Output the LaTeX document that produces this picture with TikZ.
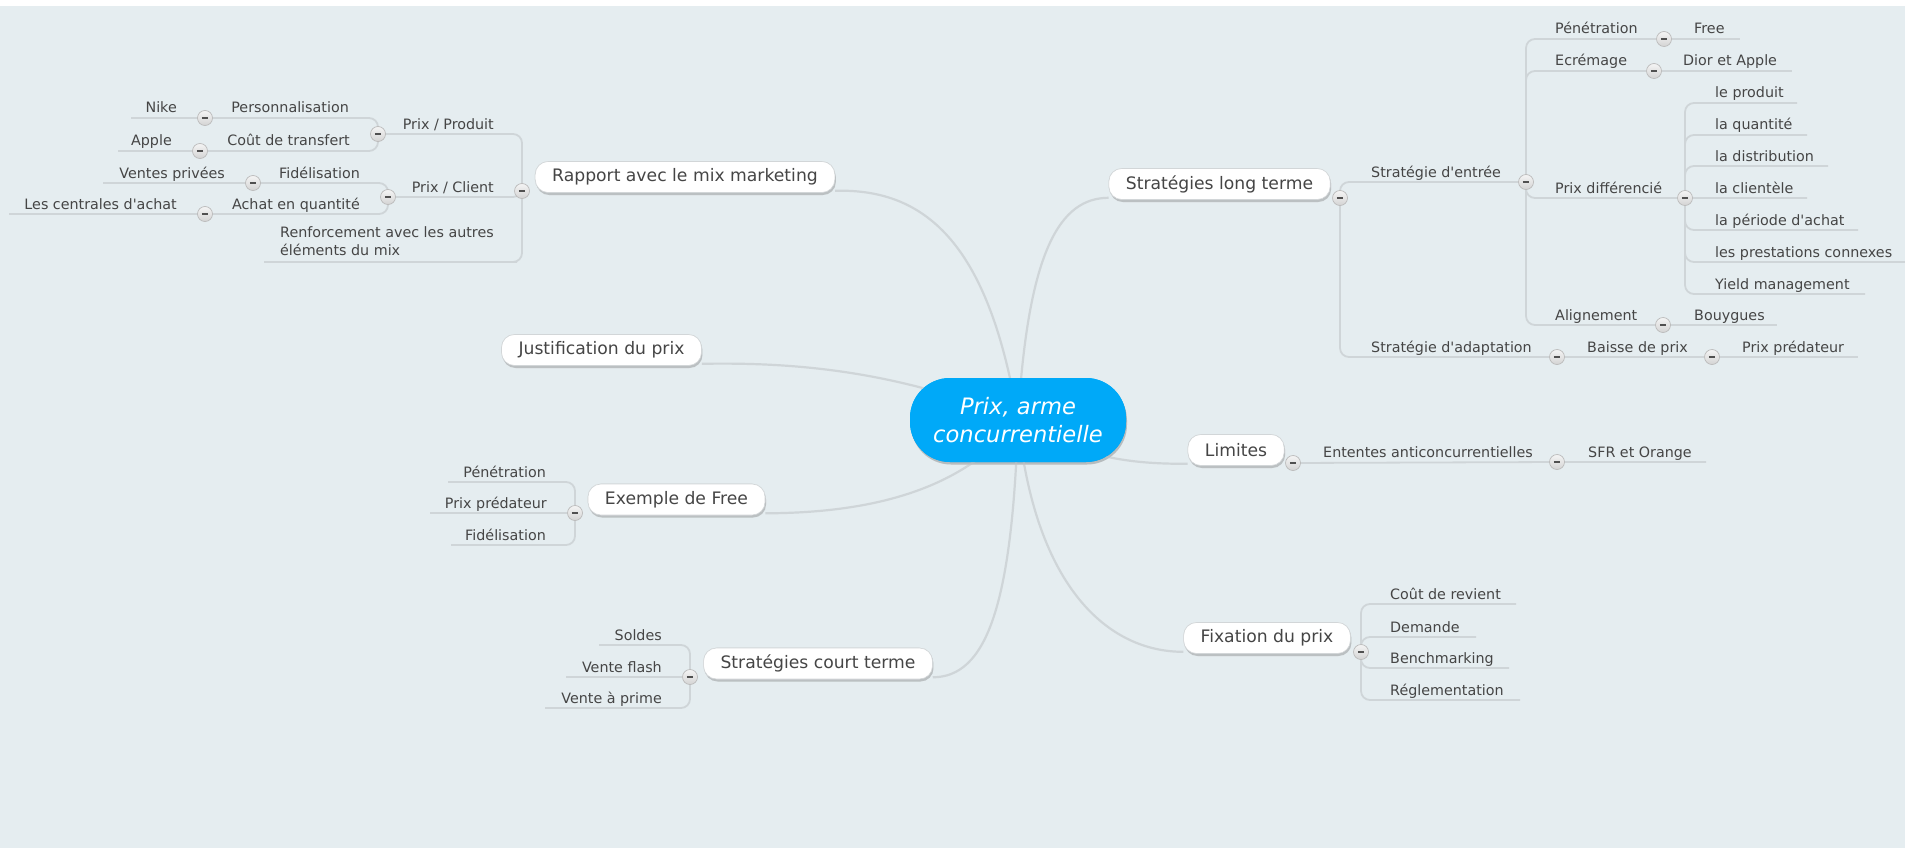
\documentclass[tikz,border=0pt]{standalone}
\usepackage{fontspec}
\setmainfont{DejaVu Sans}[Ligatures=TeXOff]
\usetikzlibrary{shadows}
\definecolor{bgc}{HTML}{E5EDF0}
\definecolor{lc}{HTML}{CFD5D8}
\definecolor{tc}{HTML}{454545}
\definecolor{bd}{HTML}{D2D6D8}
\definecolor{cb}{HTML}{00A9F8}
\definecolor{b1}{HTML}{F4F4F4}
\definecolor{b2}{HTML}{D4D4D4}
\definecolor{b3}{HTML}{BBBBBB}
\definecolor{mc}{HTML}{505050}
\begin{document}
\begin{tikzpicture}[x=1pt,y=-1pt,
  conn/.style={draw=lc, line width=2.2pt},
  subline/.style={draw=lc, line width=1.8pt, rounded corners=9pt},
  lbl/.style={font=\fontsize{14.3}{18}\selectfont, text=tc, inner sep=0pt},
  topic/.style={fill=white, draw=bd, line width=0.6pt, rounded corners=13pt,
    font=\fontsize{17.2}{20}\selectfont, text=tc, minimum height=31pt, inner xsep=17pt, inner ysep=0pt,
    drop shadow={shadow xshift=1pt, shadow yshift=-2.5pt, opacity=0.18, fill=black!60}},
  central/.style={fill=cb, draw=none, rounded corners=40pt, text=white, align=center,
    font=\fontsize{22.6}{28}\selectfont\itshape, minimum width=216pt, minimum height=84pt,
    drop shadow={shadow xshift=1pt, shadow yshift=-2.5pt, opacity=0.2, fill=black!60}},
  btn/.style={circle, minimum size=15pt, inner sep=0pt, top color=b1, bottom color=b2, draw=b3, line width=0.7pt,
    path picture={\draw[line width=1.9pt, draw=mc] ([xshift=-3.2pt]path picture bounding box.center) -- ([xshift=3.2pt]path picture bounding box.center);}}
]
\useasboundingbox (0,0) rectangle (1905,848);
\fill[white] (0,0) rectangle (1905,848);
\fill[bgc] (0,6) rectangle (1905,848);

% ---------- topic nodes ----------
\node[central] (c) at (1018,420) {Prix, arme\\concurrentielle};
\node[topic] (rap) at (685,177) {Rapport avec le mix marketing};
\node[topic] (jus) at (601.5,350) {Justification du prix};
\node[topic] (exf) at (676.5,499.5) {Exemple de Free};
\node[topic] (cts) at (818,663.5) {Stratégies court terme};
\node[topic] (lt) at (1219.5,184) {Stratégies long terme};
\node[topic] (lim) at (1236,450) {Limites};
\node[topic] (fix) at (1267,638) {Fixation du prix};

% ---------- button positions ----------
\coordinate (rapb) at (522,191);
\coordinate (exb) at (575,513);
\coordinate (ctsb) at (690,677);
\coordinate (ltb) at (1340,198);
\coordinate (limb) at (1293,463);
\coordinate (fixb) at (1361,652);

\coordinate (ppb) at (378,134);
\coordinate (pcb) at (388,197);
\coordinate (persb) at (205,118);
\coordinate (ctb) at (200,151);
\coordinate (fidb) at (253,183);
\coordinate (aqb) at (205,214);

\coordinate (eb) at (1526,182);
\coordinate (ab) at (1557,357);
\coordinate (penb) at (1664,39);
\coordinate (ecrb) at (1654,71);
\coordinate (pdb) at (1685,198);
\coordinate (alb) at (1663,325);
\coordinate (bpb) at (1712,357);
\coordinate (entb) at (1557,462);

% ---------- free ends of underlines ----------
\coordinate (renR) at (508,262); \coordinate (renL) at (264,262);
\coordinate (nikeL) at (131,118);
\coordinate (appleL) at (118,151);
\coordinate (vpL) at (103,183);
\coordinate (lcL) at (9,214);
\coordinate (expenL) at (448,482);
\coordinate (exppL) at (430,513);
\coordinate (exfidL) at (451,545);
\coordinate (soL) at (599,645);
\coordinate (vfL) at (566,677);
\coordinate (vapL) at (545,708);
\coordinate (freeR) at (1740,39);
\coordinate (diorR) at (1792,71);
\coordinate (bouR) at (1777,325);
\coordinate (ppredR) at (1858,357);
\coordinate (sfrR) at (1706,462);
\coordinate (d1) at (1797,103);
\coordinate (d2) at (1807,135);
\coordinate (d3) at (1828,166);
\coordinate (d4) at (1807,198);
\coordinate (d5) at (1858,230);
\coordinate (d6) at (1905,262);
\coordinate (d7) at (1865,294);
\coordinate (f1) at (1516,604);
\coordinate (f2) at (1476,637);
\coordinate (f3) at (1509,668);
\coordinate (f4) at (1520,700);

% ---------- labels ----------
\node[lbl, anchor=base east] (pp) at (494,129) {Prix / Produit};
\node[lbl, anchor=base east] (pc) at (494,192) {Prix / Client};
\node[lbl, anchor=north west, align=left] (ren) at (280,226) {Renforcement avec les autres\\éléments du mix};
\node[lbl, anchor=base east] (pers) at (349,113) {Personnalisation};
\node[lbl, anchor=base east] (nike) at (177,113) {Nike};
\node[lbl, anchor=base east] (ct) at (350,146) {Coût de transfert};
\node[lbl, anchor=base east] (apple) at (172,146) {Apple};
\node[lbl, anchor=base east] (fid) at (360,178) {Fidélisation};
\node[lbl, anchor=base east] (vp) at (225,178) {Ventes privées};
\node[lbl, anchor=base east] (aq) at (360,209) {Achat en quantité};
\node[lbl, anchor=base east] (lc) at (177,209) {Les centrales d'achat};
\node[lbl, anchor=base east] (expen) at (546,477) {Pénétration};
\node[lbl, anchor=base east] (expp) at (547,508) {Prix prédateur};
\node[lbl, anchor=base east] (exfid) at (546,540) {Fidélisation};
\node[lbl, anchor=base east] (so) at (662,640) {Soldes};
\node[lbl, anchor=base east] (vf) at (662,672) {Vente flash};
\node[lbl, anchor=base east] (vap) at (662,703) {Vente à prime};
\node[lbl, anchor=base west] (entree) at (1371,177) {Stratégie d'entrée};
\node[lbl, anchor=base west] (adapt) at (1371,352) {Stratégie d'adaptation};
\node[lbl, anchor=base west] (pen) at (1555,34) {Pénétration};
\node[lbl, anchor=base west] (free) at (1694,34) {Free};
\node[lbl, anchor=base west] (ecr) at (1555,66) {Ecrémage};
\node[lbl, anchor=base west] (dior) at (1683,66) {Dior et Apple};
\node[lbl, anchor=base west] (pd) at (1555,193) {Prix différencié};
\node[lbl, anchor=base west] (al) at (1555,320) {Alignement};
\node[lbl, anchor=base west] (bou) at (1694,320) {Bouygues};
\node[lbl, anchor=base west] (bp) at (1587,352) {Baisse de prix};
\node[lbl, anchor=base west] (ppred) at (1742,352) {Prix prédateur};
\node[lbl, anchor=base west] (pd1) at (1715,98) {le produit};
\node[lbl, anchor=base west] (pd2) at (1715,130) {la quantité};
\node[lbl, anchor=base west] (pd3) at (1715,161) {la distribution};
\node[lbl, anchor=base west] (pd4) at (1715,193) {la clientèle};
\node[lbl, anchor=base west] (pd5) at (1715,225) {la période d'achat};
\node[lbl, anchor=base west] (pd6) at (1715,257) {les prestations connexes};
\node[lbl, anchor=base west] (pd7) at (1715,289) {Yield management};
\node[lbl, anchor=base west] (ent) at (1323,457) {Ententes anticoncurrentielles};
\node[lbl, anchor=base west] (sfr) at (1588,457) {SFR et Orange};
\node[lbl, anchor=base west] (fx1) at (1390,599) {Coût de revient};
\node[lbl, anchor=base west] (fx2) at (1390,632) {Demande};
\node[lbl, anchor=base west] (fx3) at (1390,663) {Benchmarking};
\node[lbl, anchor=base west] (fx4) at (1390,695) {Réglementation};

% ---------- connectors ----------
\draw[conn] (c.center) .. controls (990,250) and (930,188) .. ([yshift=2pt]rap.south east);
\draw[conn] (c.center) .. controls (900,372) and (800,362) .. ([yshift=2pt]jus.south east);
\draw[conn] (c.center) .. controls (960,495) and (860,513) .. ([yshift=2pt]exf.south east);
\draw[conn] (c.center) .. controls (1012,610) and (985,677) .. ([yshift=2pt]cts.south east);
\draw[conn] (c.center) .. controls (1028,250) and (1060,198) .. ([yshift=2pt]lt.south west);
\draw[conn] (c.center) .. controls (1080,458) and (1130,464) .. ([yshift=2pt]lim.south west);
\draw[conn] (c.center) .. controls (1035,590) and (1110,652) .. ([yshift=2pt]fix.south west);

\draw[subline] (rapb) |- (ppb);
\draw[subline] (rapb) |- (pcb);
\draw[subline] (rapb) |- (renR) -- (renL);
\draw[subline] (ppb) |- (persb);
\draw[subline] (ppb) |- (ctb);
\draw[subline] (persb) -- (nikeL);
\draw[subline] (ctb) -- (appleL);
\draw[subline] (pcb) |- (fidb);
\draw[subline] (pcb) |- (aqb);
\draw[subline] (fidb) -- (vpL);
\draw[subline] (aqb) -- (lcL);
\draw[subline] (exb) |- (expenL);
\draw[subline] (exb) -- (exppL);
\draw[subline] (exb) |- (exfidL);
\draw[subline] (ctsb) |- (soL);
\draw[subline] (ctsb) -- (vfL);
\draw[subline] (ctsb) |- (vapL);
\draw[subline] (ltb) |- (eb);
\draw[subline] (ltb) |- (ab);
\draw[subline] (eb) |- (penb);
\draw[subline] (eb) |- (ecrb);
\draw[subline] (eb) |- (pdb);
\draw[subline] (eb) |- (alb);
\draw[subline] (penb) -- (freeR);
\draw[subline] (ecrb) -- (diorR);
\draw[subline] (alb) -- (bouR);
\draw[subline] (ab) -- (bpb);
\draw[subline] (bpb) -- (ppredR);
\foreach \d in {d1,d2,d3,d4,d5,d6,d7} \draw[subline] (pdb) |- (\d);
\draw[subline] (limb) -- (entb) -- (sfrR);
\foreach \f in {f1,f2,f3,f4} \draw[subline] (fixb) |- (\f);

% ---------- topic boxes drawn again over the connectors ----------
\node[central] at (c.center) {Prix, arme\\concurrentielle};
\node[topic] at (rap.center) {Rapport avec le mix marketing};
\node[topic] at (jus.center) {Justification du prix};
\node[topic] at (exf.center) {Exemple de Free};
\node[topic] at (cts.center) {Stratégies court terme};
\node[topic] at (lt.center) {Stratégies long terme};
\node[topic] at (lim.center) {Limites};
\node[topic] at (fix.center) {Fixation du prix};

% ---------- buttons ----------
\foreach \b in {rapb,exb,ctsb,ltb,limb,fixb,ppb,pcb,persb,ctb,fidb,aqb,eb,ab,penb,ecrb,pdb,alb,bpb,entb}
  \node[btn] at (\b) {};
\end{tikzpicture}
\end{document}
